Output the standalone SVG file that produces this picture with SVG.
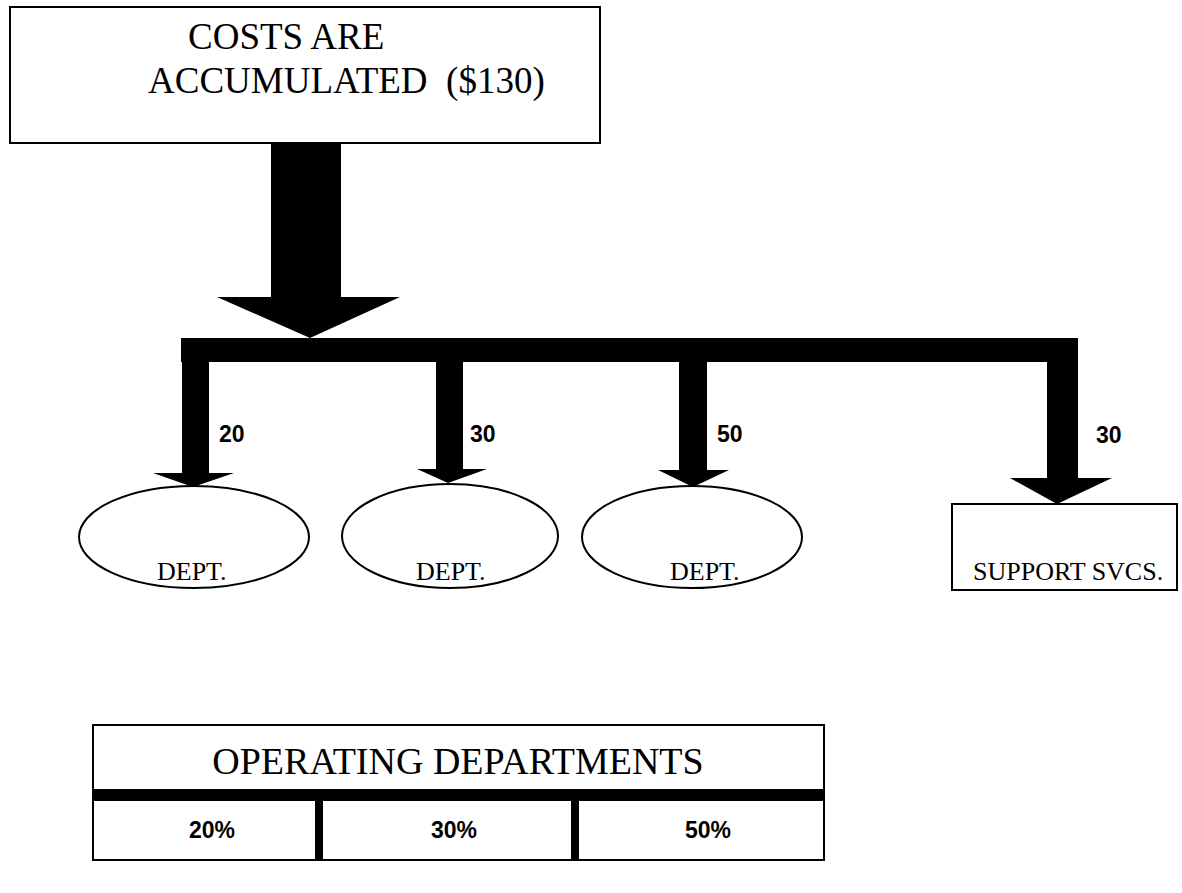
<svg xmlns="http://www.w3.org/2000/svg" width="1182" height="893" viewBox="0 0 1182 893">
<style>
.box{fill:#fff;stroke:#000;stroke-width:2}
.serif{font-family:"Liberation Serif","Times New Roman",serif;fill:#000}
.num{font-family:"Liberation Sans",Arial,sans-serif;font-weight:bold;fill:#000;font-size:23px}
.blk{fill:#000}
</style>
<rect width="1182" height="893" fill="#fff"/>
<g id="connectors">
<rect class="blk" x="271" y="142" width="70" height="156"/>
<polygon class="blk" points="217,297 400,297 310,338"/>
<rect class="blk" x="181" y="338" width="897" height="24"/>
<rect class="blk" x="182" y="360" width="27" height="114"/>
<polygon class="blk" points="153,473 234,473 193,487"/>
<rect class="blk" x="436" y="360" width="27" height="110"/>
<polygon class="blk" points="417,469 487,469 448,483"/>
<rect class="blk" x="679" y="360" width="28" height="111"/>
<polygon class="blk" points="658,470 729,470 693,487"/>
<rect class="blk" x="1047" y="360" width="31" height="119"/>
<polygon class="blk" points="1010,478 1112,478 1057,504"/>
<text class="num" x="219" y="442">20</text>
<text class="num" x="470" y="442">30</text>
<text class="num" x="717" y="442">50</text>
<text class="num" x="1096" y="443">30</text>
</g>
<g id="costs">
<rect class="box" x="10" y="7" width="590" height="136"/>
<text class="serif" font-size="37" x="188" y="49">COSTS ARE</text>
<text class="serif" font-size="37" x="148" y="93" xml:space="preserve">ACCUMULATED  ($130)</text>
</g>
<g id="dept1">
<ellipse class="box" cx="194" cy="537" rx="115" ry="51"/>
<text class="serif" font-size="26" x="157" y="580">DEPT.</text>
</g>
<g id="dept2">
<ellipse class="box" cx="450" cy="536" rx="108" ry="52"/>
<text class="serif" font-size="26" x="416" y="580">DEPT.</text>
</g>
<g id="dept3">
<ellipse class="box" cx="692" cy="537" rx="110" ry="51"/>
<text class="serif" font-size="26" x="670" y="580">DEPT.</text>
</g>
<g id="support">
<rect class="box" x="952" y="504" width="225" height="86"/>
<text class="serif" font-size="26" x="973" y="580">SUPPORT SVCS.</text>
</g>
<g id="operating">
<rect class="box" x="93" y="725" width="731" height="135"/>
<text class="serif" font-size="38" x="458" y="774" text-anchor="middle">OPERATING DEPARTMENTS</text>
<rect class="blk" x="93" y="789" width="731" height="12"/>
<rect class="blk" x="315" y="789" width="8" height="71"/>
<rect class="blk" x="571" y="789" width="8" height="71"/>
<text class="num" x="212" y="838" text-anchor="middle">20%</text>
<text class="num" x="454" y="838" text-anchor="middle">30%</text>
<text class="num" x="708" y="838" text-anchor="middle">50%</text>
</g>
</svg>
